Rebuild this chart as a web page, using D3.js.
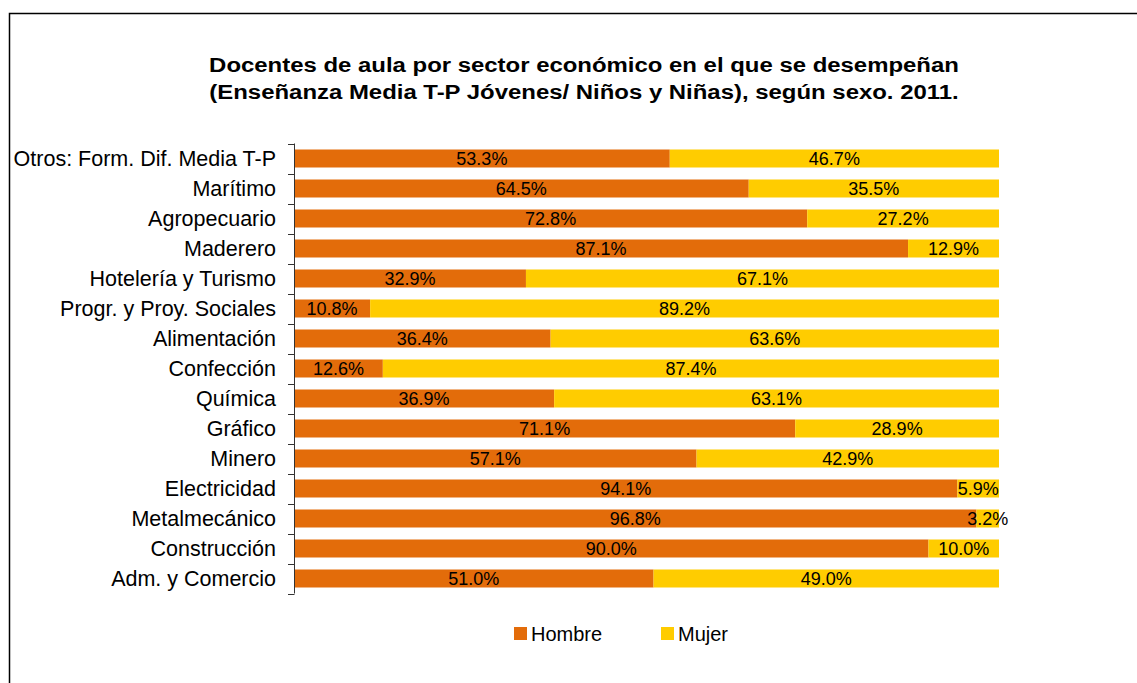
<!DOCTYPE html>
<html>
<head>
<meta charset="utf-8">
<script src="https://cdn.jsdelivr.net/npm/d3@7"></script>
<style>
  body { margin: 0; background: #fff; }
  text { font-family: "Liberation Sans", Arial, sans-serif; }
</style>
</head>
<body>
<div id="chart"></div>
<script>
// data, top row first
var sectores = ["Otros: Form. Dif. Media T-P", "Marítimo", "Agropecuario", "Maderero",
  "Hotelería y Turismo", "Progr. y Proy. Sociales", "Alimentación", "Confección",
  "Química", "Gráfico", "Minero", "Electricidad", "Metalmecánico", "Construcción",
  "Adm. y Comercio"]
var hombre = [53.3, 64.5, 72.8, 87.1, 32.9, 10.8, 36.4, 12.6, 36.9, 71.1, 57.1, 94.1, 96.8, 90.0, 51.0]
var mujer = [46.7, 35.5, 27.2, 12.9, 67.1, 89.2, 63.6, 87.4, 63.1, 28.9, 42.9, 5.9, 3.2, 10.0, 49.0]
var series = ["Hombre", "Mujer"]
var colores = ["#E36C0A", "#FFCC00"]
var titulo = ["Docentes de aula por sector económico en el que se desempeñan",
  "(Enseñanza Media T-P Jóvenes/ Niños y Niñas), según sexo. 2011."]

var W = 1137, H = 683
var svg = d3.select("#chart").append("svg")
  .attr("width", W).attr("height", H)

// outer frame
svg.append("rect")
  .attr("x", 9.5).attr("y", 13.5)
  .attr("width", W).attr("height", H)
  .attr("fill", "none").attr("stroke", "#000").attr("stroke-width", 1.5)

// title is a bit wider than plain Arial, so stretch it a little
titulo.forEach(function(t, i) {
  svg.append("text")
    .attr("transform", "translate(584," + (72 + i * 27) + ") scale(1.14,1)")
    .attr("text-anchor", "middle")
    .style("font-size", "21px").style("font-weight", "bold")
    .text(t)
})

var x = d3.scaleLinear().domain([0, 100]).range([294, 999])
var y = d3.scaleBand().domain(sectores).range([143.5, 593.5]).paddingInner(0.4).paddingOuter(0.2)

var rows = sectores.map(function(s, i) {
  return { sector: s, vals: [hombre[i], mujer[i]] }
})

var g = svg.append("g")
rows.forEach(function(r) {
  var acc = 0
  r.vals.forEach(function(v, k) {
    g.append("rect")
      .attr("x", x(acc))
      .attr("y", y(r.sector))
      .attr("width", x(acc + v) - x(acc))
      .attr("height", y.bandwidth())
      .attr("fill", colores[k])
    g.append("text")
      .attr("x", (x(acc) + x(acc + v)) / 2)
      .attr("y", y(r.sector) + y.bandwidth() / 2)
      .attr("dy", "0.36em")
      .attr("text-anchor", "middle")
      .style("font-size", "18px")
      .attr("fill", "#000")
      .text(v.toFixed(1) + "%")
    acc += v
  })
})

// category axis with ticks between categories
var ax = svg.append("g")
ax.append("line")
  .attr("x1", 294.5).attr("x2", 294.5)
  .attr("y1", 143.5).attr("y2", 593.5)
  .attr("stroke", "#333").attr("stroke-width", 1)
var step = y.step()
d3.range(sectores.length + 1).forEach(function(i) {
  var yy = Math.round(143.5 + i * step) + 0.5
  ax.append("line")
    .attr("x1", 288).attr("x2", 294.5)
    .attr("y1", yy).attr("y2", yy)
    .attr("stroke", "#333")
})
sectores.forEach(function(s) {
  ax.append("text")
    .attr("x", 276)
    .attr("y", y(s) + y.bandwidth() / 2)
    .attr("dy", "0.36em")
    .attr("text-anchor", "end")
    .style("font-size", "21.5px")
    .text(s)
})

// legend
var legX = [514, 661]
series.forEach(function(s, k) {
  svg.append("rect")
    .attr("x", legX[k]).attr("y", 627)
    .attr("width", 13).attr("height", 13)
    .attr("fill", colores[k])
  svg.append("text")
    .attr("x", legX[k] + 17).attr("y", 633.5)
    .attr("dy", "0.36em")
    .style("font-size", "20px")
    .text(s)
})
</script>
</body>
</html>
